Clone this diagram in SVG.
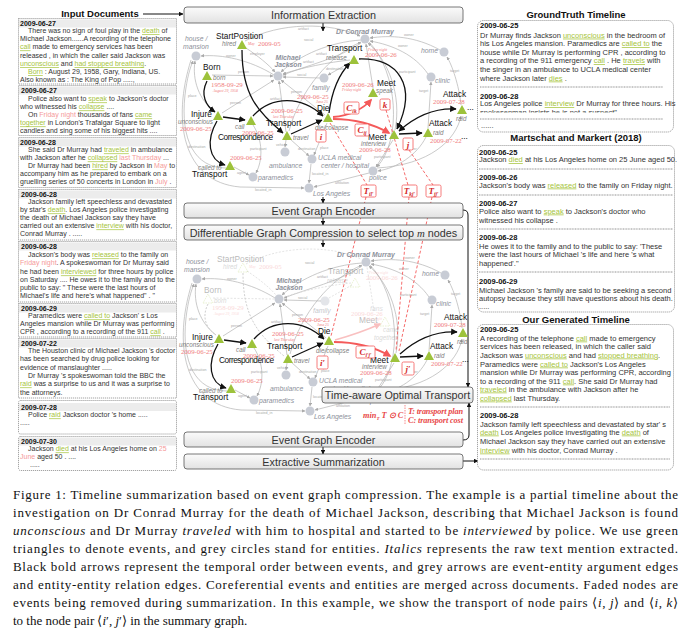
<svg xmlns="http://www.w3.org/2000/svg" width="691" height="633" viewBox="0 0 691 633">
<defs>
<linearGradient id="bg" x1="0" y1="0" x2="0" y2="1"><stop offset="0" stop-color="#fbfbfb"/><stop offset="1" stop-color="#e2e2e2"/></linearGradient>
<marker id="ga" viewBox="0 0 10 10" refX="9" refY="5" markerWidth="3.5" markerHeight="3.5" markerUnits="userSpaceOnUse" orient="auto"><path d="M0,0 L10,5 L0,10 z" fill="#aaa"/></marker>
<marker id="ba" viewBox="0 0 10 10" refX="9" refY="5" markerWidth="6.5" markerHeight="6.5" markerUnits="userSpaceOnUse" orient="auto-start-reverse"><path d="M0,0 L10,5 L0,10 z" fill="#111"/></marker>
<marker id="sa" viewBox="0 0 10 10" refX="9" refY="5" markerWidth="4.5" markerHeight="4.5" markerUnits="userSpaceOnUse" orient="auto"><path d="M0,0 L10,5 L0,10 z" fill="#111"/></marker>
<marker id="ra" viewBox="0 0 10 10" refX="8" refY="5" markerWidth="8" markerHeight="8" markerUnits="userSpaceOnUse" orient="auto"><path d="M0,0 L10,5 L0,10 z" fill="#f45a5a"/></marker>
<marker id="pa" viewBox="0 0 10 10" refX="8" refY="5" markerWidth="7" markerHeight="7" markerUnits="userSpaceOnUse" orient="auto"><path d="M0,0 L10,5 L0,10 z" fill="#f9c0c0"/></marker>
<marker id="fa" viewBox="0 0 10 10" refX="9" refY="5" markerWidth="4" markerHeight="4" markerUnits="userSpaceOnUse" orient="auto"><path d="M0,0 L10,5 L0,10 z" fill="#cfcfcf"/></marker>
<clipPath id="gtc"><rect x="478" y="99" width="195" height="13.5"/></clipPath>
<style>
.bx{fill:url(#bg);stroke:#555;stroke-width:0.8}
.bt{font-family:"Liberation Sans",Arial,sans-serif;font-size:10.8px;fill:#333;text-anchor:middle}
.ti{font-family:"Liberation Sans",Arial,sans-serif;font-size:9.5px;font-weight:bold;fill:#111;text-anchor:middle}
.doc{fill:#fff;stroke:#666;stroke-width:0.6;stroke-dasharray:1.2 0.8}
.dh{fill:#ececec}
.dd{font-family:"Liberation Sans",Arial,sans-serif;font-size:7px;font-weight:bold;fill:#111}
.dx{font-family:"Liberation Sans",Arial,sans-serif;font-size:7px;fill:#333}
.rdd{font-family:"Liberation Sans",Arial,sans-serif;font-size:7.5px;font-weight:bold;fill:#111}
.rx{font-family:"Liberation Sans",Arial,sans-serif;font-size:7.5px;fill:#333}
.g{fill:#a6c43c;text-decoration:underline}
.r{fill:#f59a9a}
.sep{stroke:#777;stroke-width:0.8;stroke-dasharray:1 0.6}
.cap{font-family:"Liberation Serif","Times New Roman",serif;font-size:13px;fill:#111}
.ev{font-family:"Liberation Sans",Arial,sans-serif;font-size:8.3px;fill:#111}
.mn{font-family:"Liberation Sans",Arial,sans-serif;font-size:6.3px;font-style:italic;fill:#808080}
.dt{font-family:"Liberation Serif",serif;font-size:6.8px;fill:#f07c7c}
.ds{font-family:"Liberation Serif",serif;font-size:3.8px;font-style:italic;fill:#f07c7c}
.en{font-family:"Liberation Sans",Arial,sans-serif;font-size:6.8px;font-style:italic;fill:#8c909a}
.enb{font-family:"Liberation Sans",Arial,sans-serif;font-size:6.8px;font-style:italic;font-weight:bold;fill:#8c909a}
.tri{fill:#9dc23b}
.ftri{fill:none;stroke:#a9cc4a;stroke-width:0.8;stroke-dasharray:1.5 1}
.ci{fill:#c8ccd5}
.ge{fill:none;stroke:#b3b3b3;stroke-width:0.7;marker-end:url(#ga)}
.gl{font-family:"Liberation Sans",Arial,sans-serif;font-size:3.6px;fill:#a8a8a8}
.te{fill:none;stroke:#111;stroke-width:1.3;marker-end:url(#ba)}
.re{fill:none;stroke:#f45a5a;stroke-width:1.8;marker-end:url(#ra)}
.pe{fill:none;stroke:#f9c0c0;stroke-width:1.6;marker-end:url(#pa)}
.rdl{fill:none;stroke:#f45a5a;stroke-width:0.9;stroke-dasharray:3 2}
.rb{fill:#fff;stroke:#f45a5a;stroke-width:0.8}
.rbt{font-family:"Liberation Serif",serif;font-style:italic;font-weight:bold;font-size:9px;fill:#d42a2a;text-anchor:middle}
.sub{font-size:5.5px}
.ar{fill:none;stroke:#111;stroke-width:1;marker-end:url(#sa)}
.fade{opacity:0.3}
.rf{font-family:"Liberation Serif",serif;font-style:italic;font-weight:bold;font-size:8.3px;fill:#e84848}
</style>
<g id="ge-core">
<path class="ge" d="M274,75 C250,60 222,54 201,56"/><text class="gl" x="226" y="57">owner</text>
<path class="ge" d="M215,112 C199,100 192,80 195,61"/><text class="gl" x="188" y="97">place</text>
<path class="ge" d="M222,113 L274,80"/><text class="gl" x="230" y="104">person</text>
<path class="ge" d="M361,40 C330,42 300,55 281,72"/><text class="gl" x="304" y="41">social</text>
<path class="ge" d="M361,43 C340,58 305,66 283,75"/><text class="gl" x="316" y="55">artifact</text>
<path class="ge" d="M320,78 L283,77"/><text class="gl" x="297" y="76">social</text>
<path class="ge" d="M325,115 L281,80"/><text class="gl" x="291" y="93">person</text>
<path class="ge" d="M286,132 L279,81"/><text class="gl" x="270" y="100">artifact</text>
<path class="ge" d="M286,140 L285,147"/><text class="gl" x="276" y="146">vehicle</text>
<path class="ge" d="M290,139 L309,156"/><text class="gl" x="298" y="150">destination</text>
<path class="ge" d="M253,125 C263,140 263,160 256,173"/><text class="gl" x="250" y="150">participant</text>
<path class="ge" d="M234,167 L249,175"/><text class="gl" x="237" y="174">agent</text>
<path class="ge" d="M226,168 C195,168 180,140 185,95 C187,78 190,68 193,61"/><text class="gl" x="188" y="148">destination</text>
<path class="ge" d="M191,60 C172,120 182,182 240,187 L304,188"/><text class="gl" x="255" y="191">located_in</text>
<path class="ge" d="M311,164 L309,183"/><text class="gl" x="312" y="175">located_in</text>
<path class="ge" d="M369,173 L314,187"/><text class="gl" x="335" y="184">affiliation</text>
<path class="ge" d="M393,140 L376,167"/><text class="gl" x="374" y="158">participant</text>
<path class="ge" d="M426,137 C417,155 397,168 378,171"/><text class="gl" x="404" y="150">attacker</text>
<path class="ge" d="M428,128 L431,82"/><text class="gl" x="419" y="92">target</text>
<path class="ge" d="M461,105 C459,85 452,65 447,57"/><text class="gl" x="450" y="72">target</text>
<path class="ge" d="M440,50 C415,36 390,35 370,38"/><text class="gl" x="404" y="36">owner</text>
<path class="ge" d="M428,74 C415,55 393,45 370,41"/><text class="gl" x="398" y="47">owner</text>
<path class="ge" d="M395,130 C402,95 388,60 368,43"/><text class="gl" x="399" y="73">participant</text>
<path class="ge" d="M327,123 L314,155"/><text class="gl" x="320" y="149">place</text>
<path class="ge" d="M289,131 C300,90 330,55 361,42"/>
<path class="ge" d="M377,168 C430,165 456,140 461,116"/>
<path class="ge" d="M369,42 C398,72 402,140 377,167"/>
</g>
<g id="ge-fade-src">
<path d="M212,75 L273,76"/><path d="M246,48 C258,56 268,64 275,72"/><path d="M245,41 C280,22 330,22 360,36"/><path d="M351,62 L328,75"/><path d="M350,60 C330,62 300,68 283,74"/><path d="M373,88 L366,44"/>
</g>
</defs>

<g id="input-docs">
<text class="ti" x="100" y="17">Input Documents</text>
<g id="doc1"><rect class="doc" x="18.5" y="18.5" width="158" height="65.5"/><rect class="dh" x="19" y="19.5" width="157" height="8"/>
<text class="dd" x="20" y="25.5">2009-06-27</text>
<text class="dx" x="28" y="33.1">There was no sign of foul play in the <tspan class="g">death</tspan> of</text>
<text class="dx" x="20" y="41.4">Michael Jackson......A recording of the telephone</text>
<text class="dx" x="20" y="49.4"><tspan class="g">call</tspan> made to emergency services has been</text>
<text class="dx" x="20" y="57.7">released , in which the caller said Jackson was</text>
<text class="dx" x="20" y="66.1"><tspan class="g">unconscious</tspan> and <tspan class="g">had stopped breathing</tspan>.</text>
<text class="dx" x="28" y="74.1"><tspan class="g">Born</tspan> : August 29, 1958, Gary, Indiana, US.</text>
<text class="dx" x="20" y="82.4">Also known as : The King of Pop .....,</text></g>
<g id="doc2"><rect class="doc" x="18.5" y="85.5" width="158" height="50"/><rect class="dh" x="19" y="86.5" width="157" height="8"/>
<text class="dd" x="21" y="92.5">2009-06-27</text>
<text class="dx" x="28" y="101.4">Police also want to <tspan class="g">speak</tspan> to Jackson's doctor</text>
<text class="dx" x="20" y="109.4">who witnessed his <tspan class="g">collapse</tspan> ....</text>
<text class="dx" x="28" y="117.4">On <tspan class="r">Friday night</tspan> thousands of fans <tspan class="g">came</tspan></text>
<text class="dx" x="20" y="125.4"><tspan class="g">together</tspan> in London's Trafalgar Square to light</text>
<text class="dx" x="20" y="133.4">candles and sing some of his biggest hits ....</text></g>
<g id="doc3"><rect class="doc" x="18.5" y="137.5" width="158" height="50"/><rect class="dh" x="19" y="138.5" width="157" height="8"/>
<text class="dd" x="20" y="144.5">2009-06-28</text>
<text class="dx" x="28" y="152.4">She said Dr Murray had <tspan class="g">traveled</tspan> in ambulance</text>
<text class="dx" x="20" y="160.4">with Jackson after he <tspan class="g">collapsed</tspan> <tspan class="r">last Thursday</tspan> ...</text>
<text class="dx" x="28" y="168.4">Dr Murray had been <tspan class="g">hired</tspan> by Jackson in <tspan class="r">May</tspan> to</text>
<text class="dx" x="20" y="176.4">accompany him as he prepared to embark on a</text>
<text class="dx" x="20" y="184.4">gruelling series of 50 concerts in London in <tspan class="r">July</tspan> .</text></g>
<g id="doc4"><rect class="doc" x="18.5" y="189.5" width="158" height="50.5"/><rect class="dh" x="19" y="190.5" width="157" height="8"/>
<text class="dd" x="21" y="196.5">2009-06-28</text>
<text class="dx" x="28" y="204.4">Jackson family left speechless and devastated</text>
<text class="dx" x="20" y="212.4">by star's <tspan class="g">death</tspan>. Los Angeles police investigating</text>
<text class="dx" x="20" y="220.4">the death of Michael Jackson say they have</text>
<text class="dx" x="20" y="228.4">carried out an extensive <tspan class="g">interview</tspan> with his doctor,</text>
<text class="dx" x="20" y="236.4">Conrad Murray . .....</text></g>
<g id="doc5"><rect class="doc" x="18.5" y="241.5" width="158" height="60.5"/><rect class="dh" x="19" y="242.5" width="157" height="8"/>
<text class="dd" x="21" y="248.5">2009-06-28</text>
<text class="dx" x="28" y="257.4">Jackson's body was <tspan class="g">released</tspan> to the family on</text>
<text class="dx" x="20" y="265.4"><tspan class="r">Friday night</tspan>. A spokeswoman for Dr Murray said</text>
<text class="dx" x="20" y="274.4">he had been <tspan class="g">interviewed</tspan> for three hours by police</text>
<text class="dx" x="20" y="282.4">on Saturday .... He owes it to the family and to the</text>
<text class="dx" x="20" y="290.4">public to say: " These were the last hours of</text>
<text class="dx" x="20" y="298.4">Michael's life and here's what happened" . "</text></g>
<g id="doc6"><rect class="doc" x="18.5" y="303.5" width="158" height="33.5"/><rect class="dh" x="19" y="304.5" width="157" height="8"/>
<text class="dd" x="21" y="310.5">2009-06-29</text>
<text class="dx" x="28" y="318.4">Paramedics were <tspan class="g">called to</tspan> Jackson' s Los</text>
<text class="dx" x="20" y="326.4">Angeles mansion while Dr Murray was performing</text>
<text class="dx" x="20" y="334.4">CPR , according to a recording of the 911 <tspan class="g">call</tspan> .</text></g>
<g id="doc7"><rect class="doc" x="18.5" y="338.5" width="158" height="59.5"/><rect class="dh" x="19" y="339.5" width="157" height="8"/>
<text class="dd" x="21" y="345.5">2009-07-22</text>
<text class="dx" x="28" y="353.4">The Houston clinic of Michael Jackson 's doctor</text>
<text class="dx" x="20" y="361.4">has been searched by drug police looking for</text>
<text class="dx" x="20" y="370.4">evidence of manslaughter .....</text>
<text class="dx" x="28" y="378.4">Dr Murray 's spokeswoman told the BBC the</text>
<text class="dx" x="20" y="386.4"><tspan class="g">raid</tspan> was a surprise to us and it was a surprise to</text>
<text class="dx" x="20" y="395.4">the attorneys.</text></g>
<g id="doc8"><rect class="doc" x="18.5" y="400.5" width="158" height="33.5" rx="2"/><rect class="dh" x="19" y="403" width="157" height="8"/>
<text class="dd" x="21" y="409.5">2009-07-28</text>
<text class="dx" x="28" y="417.4">Police <tspan class="g">raid</tspan> Jackson doctor 's home .....</text>
<text class="dx" x="20" y="425.4">.....</text></g>
<g id="doc9"><rect class="doc" x="18.5" y="436.5" width="158" height="34" rx="2"/><rect class="dh" x="19" y="437.5" width="157" height="8"/>
<text class="dd" x="21" y="443.5">2009-07-30</text>
<text class="dx" x="28" y="451.4">Jackson <tspan class="g">died</tspan> at his Los Angeles home on <tspan class="r">25</tspan></text>
<text class="dx" x="20" y="459.4"><tspan class="r">June</tspan> aged 50 . ....</text>
<text class="dx" x="30" y="467.4">.....</text></g>
</g>

<g id="connectors">
<use href="#ge-core"/>
<use href="#ge-fade-src" style="fill:none;stroke:#b3b3b3;stroke-width:0.7;marker-end:url(#ga)"/>
<text class="gl" x="238" y="73">person</text><text class="gl" x="250" y="55">employer</text><text class="gl" x="298" y="30">artifact</text><text class="gl" x="326" y="70">destination</text><text class="gl" x="303" y="63">artifact</text>
<g transform="translate(1,223)">
<use href="#ge-core"/>
<use href="#ge-fade-src" style="fill:none;stroke:#d8d8d8;stroke-width:0.7;stroke-dasharray:2 1.5"/>
</g>
<path class="te" d="M242,50 C242,95 258,112 283,133"/>
<path class="te" d="M207,81 C200,95 206,106 215,112"/>
<path class="te" d="M223,117 L245,120"/>
<path class="te" d="M217,121 C206,140 208,160 225,165"/>
<path class="te" d="M253,116 C272,95 302,96 323,116"/>
<path class="te" d="M291,134 L322,120"/>
<path class="te" d="M329,113 C332,90 340,73 350,63"/>
<path class="te" d="M359,59 C398,58 418,85 397,129"/>
<path class="te" d="M399,134 L422,133"/>
<path class="te" d="M399,131 C418,114 438,108 456,109" marker-start="url(#ba)"/>
<path class="re" d="M333,117 C350,116 364,108 371,100"/>
<path class="re" d="M333,119 C355,119 375,125 389,133"/>
<g transform="translate(1,223)">
<path d="M242,50 C242,95 258,112 283,133" fill="none" stroke="#cfcfcf" stroke-width="1" stroke-dasharray="2 1.5"/>
<path d="M207,81 C200,95 206,106 215,112" fill="none" stroke="#cfcfcf" stroke-width="1" stroke-dasharray="2 1.5"/>
<path class="te" d="M223,117 L245,120"/>
<path class="te" d="M217,121 C206,140 208,160 225,165"/>
<path class="te" d="M253,116 C272,95 302,96 323,116"/>
<path class="te" d="M291,134 L322,120"/>
<path class="te" d="M399,134 L422,133"/>
<path class="te" d="M399,131 C418,114 438,108 456,109"/>
<path class="pe" d="M334,117 C352,112 368,106 379,101"/>
<path class="re" d="M333,119 C355,119 375,125 389,133"/>
</g>
<path class="rdl" d="M330,123 L367,185"/>
<path class="rdl" d="M386,110 L408,185"/>
<path class="rdl" d="M409,150 L433,185"/>
<path class="rdl" d="M366,197 L331,336"/>
<path class="rdl" d="M409,197 L396,351"/>
<path class="rdl" d="M432,197 L399,351"/>
<path class="ar" d="M143,14 L183,14" stroke-width="1.3"/>
<path class="ar" d="M323,23 L323,31"/>
<path class="ar" d="M323,197 L323,203"/>
<path class="ar" d="M323,218 L323,225"/>
<path class="ar" d="M323,240 L323,247"/>
<path class="ar" d="M463,210 Q468,210 468,215 L468,387"/>
<path class="ar" d="M463,440 Q469,440 469,435 L469,403"/>
<path class="ar" d="M323,447 L323,454"/>
<path class="ar" d="M463,461 L478,461"/>
</g>

<g id="top-graph">
<g id="n-house"><circle class="ci" cx="196" cy="56" r="4.5"/><text class="en" x="185" y="41">house /</text><text class="en" x="183" y="49">mansion</text></g>
<g id="n-mj"><circle class="ci" cx="278" cy="76" r="4.5"/><text class="enb" x="288" y="59.5" text-anchor="middle">Michael</text><text class="enb" x="288" y="67" text-anchor="middle">Jackson</text></g>
<g id="n-family"><circle class="ci" cx="324" cy="78" r="4.5"/><text class="en" x="312" y="89.5">family</text></g>
<g id="n-murray"><circle class="ci" cx="365" cy="39" r="4.5"/><text class="enb" x="336" y="33.5">Dr Conrad Murray</text></g>
<g id="n-home"><circle class="ci" cx="444" cy="52" r="4.5"/><text class="en" x="421" y="53">home</text></g>
<g id="n-clinic"><circle class="ci" cx="431" cy="77" r="4.5"/><text class="en" x="435" y="82.5">clinic</text></g>
<g id="n-ambulance"><circle class="ci" cx="285" cy="152" r="4.5"/><text class="en" x="269" y="167.5">ambulance</text></g>
<g id="n-ucla"><circle class="ci" cx="312" cy="159" r="4.5"/><text class="en" x="318" y="159.5">UCLA medical</text><text class="en" x="321" y="167.5">center / hospital</text></g>
<g id="n-paramedics"><circle class="ci" cx="253" cy="177" r="4.5"/><text class="en" x="258" y="180">paramedics</text></g>
<g id="n-police"><circle class="ci" cx="373" cy="171" r="4.5"/><text class="en" x="369" y="180">police</text></g>
<g id="n-la"><circle class="ci" cx="309" cy="188" r="4.5"/><text class="en" x="313" y="195.5">Los Angeles</text></g>

<g id="e-start"><polygon class="tri" points="237,49 247,49 242,40"/><text class="ev" x="216" y="39">StartPosition</text><text class="mn" x="222" y="45.5">hired</text><text class="ds" x="248" y="45">May</text><text class="dt" x="258" y="45.5">2009-05</text></g>
<g id="e-born"><polygon class="tri" points="202,80 212,80 207,71"/><text class="ev" x="203" y="70">Born</text><text class="mn" x="213" y="79.5">born</text><text class="dt" x="211" y="86.5">1958-09-29</text><text class="ds" x="213" y="92">August 29, 1958</text></g>
<g id="e-injure"><polygon class="tri" points="213,120 223,120 218,111"/><text class="ev" x="191" y="117">Injure</text><text class="mn" x="178" y="123.5">unconscious</text><text class="dt" x="180" y="130.5">2009-06-25</text></g>
<g id="e-call"><polygon class="tri" points="246,125 256,125 251,116"/><text class="mn" x="235" y="128.5">call</text><text class="dt" x="242" y="134.5">2009-06-25</text><text class="ev" x="218" y="140" textLength="55">Correspondence</text></g>
<g id="e-travel"><polygon class="tri" points="282,140 292,140 287,131"/><text class="ev" x="266" y="126">Transport</text><text class="mn" x="293" y="139.5">travel</text><text class="dt" x="271" y="112.5">2009-06-25</text><text class="ds" x="273" y="118">last Thursday</text></g>
<g id="e-calledto"><polygon class="tri" points="225,170 235,170 230,161"/><text class="mn" x="198" y="169.5">called to</text><text class="ev" x="192" y="177">Transport</text><text class="dt" x="230" y="159.5">2009-06-25</text></g>
<g id="e-die"><polygon class="tri" points="323,122 333,122 328,113"/><text class="ev" x="317" y="111">Die</text><text class="mn" x="315" y="129.5">die/collapse</text><text class="dt" x="297" y="99">2009-06-25</text><text class="ds" x="316" y="103">June 25</text><rect class="rb" x="316" y="130" width="10" height="12" rx="1.5"/><text class="rbt" x="321" y="139.5">i</text></g>
<g id="e-release"><polygon class="tri" points="349,64 359,64 354,55"/><text class="ev" x="327" y="51">Transport</text><text class="mn" x="326" y="59.5">release</text><text class="dt" x="365" y="57">2009-06-26</text><text class="ds" x="368" y="50.5">Friday night</text></g>
<g id="e-speak"><polygon class="tri" points="368,97 378,97 373,88"/><text class="ev" x="377" y="86">Meet</text><text class="mn" x="376" y="93">speak</text><text class="dt" x="342" y="86.5">2009-06-26</text><text class="ds" x="342" y="91">Friday night</text><rect class="rb" x="380" y="99" width="10" height="11" rx="1.5"/><text class="rbt" x="385" y="107.5">k</text></g>
<g id="e-interview"><polygon class="tri" points="389,139 399,139 394,130"/><text class="ev" x="368" y="139.5">Meet</text><text class="mn" x="361" y="146">interview</text><text class="dt" x="359" y="152">2009-06-28</text><rect class="rb" x="403" y="138" width="10" height="12" rx="1.5"/><text class="rbt" x="408" y="147.5">j</text></g>
<g id="e-att22"><polygon class="tri" points="423,137 433,137 428,128"/><text class="ev" x="429" y="126">Attack</text><text class="mn" x="433" y="135">raid</text><text class="dt" x="430" y="143">2009-07-22</text><text class="ev" x="461" y="139">...</text></g>
<g id="e-att28"><polygon class="tri" points="457,114 467,114 462,105"/><text class="ev" x="443" y="97">Attack</text><text class="dt" x="433" y="103.5">2009-07-28</text><text class="mn" x="456" y="121">raid</text><text class="ev" x="467" y="110">...</text></g>
<g id="c-ik"><rect class="rb" x="344" y="102" width="15" height="12" rx="1.5"/><text class="rbt" x="351.5" y="111">C<tspan class="sub" dy="1.5">ik</tspan></text></g>
<g id="c-ij"><rect class="rb" x="355" y="124" width="14" height="12" rx="1.5"/><text class="rbt" x="362" y="133">C<tspan class="sub" dy="1.5">ij</tspan></text></g>
<g id="t-il"><rect class="rb" x="361" y="185" width="15" height="12" rx="1.5"/><text class="rbt" x="368.5" y="194">T<tspan class="sub" dy="1.5">il′</tspan></text></g>
<g id="t-kj"><rect class="rb" x="402" y="185" width="15" height="12" rx="1.5"/><text class="rbt" x="409.5" y="194">T<tspan class="sub" dy="1.5">kj′</tspan></text></g>
<g id="t-jj"><rect class="rb" x="426" y="185" width="15" height="12" rx="1.5"/><text class="rbt" x="433.5" y="194">T<tspan class="sub" dy="1.5">jj′</tspan></text></g>
</g>

<g id="bottom-graph" transform="translate(1,223)">
<g id="b-house"><circle class="ci" cx="196" cy="56" r="4.5"/><text class="en" x="185" y="41">house /</text><text class="en" x="183" y="49">mansion</text></g>
<g id="b-mj"><circle class="ci" cx="278" cy="76" r="4.5"/><text class="enb" x="288" y="59.5" text-anchor="middle">Michael</text><text class="enb" x="288" y="67" text-anchor="middle">Jackson</text></g>
<g id="b-family" opacity="0.5"><circle class="ci" cx="324" cy="78" r="4.5"/><text class="en" x="312" y="89.5">family</text></g>
<g id="b-murray"><circle class="ci" cx="365" cy="39" r="4.5"/><text class="enb" x="336" y="33.5">Dr Conrad Murray</text></g>
<g id="b-home"><circle class="ci" cx="444" cy="52" r="4.5"/><text class="en" x="421" y="53">home</text></g>
<g id="b-clinic"><circle class="ci" cx="431" cy="77" r="4.5"/><text class="en" x="435" y="82.5">clinic</text></g>
<g id="b-ambulance"><circle class="ci" cx="285" cy="152" r="4.5"/><text class="en" x="269" y="167.5">ambulance</text></g>
<g id="b-ucla"><circle class="ci" cx="312" cy="159" r="4.5"/><text class="en" x="318" y="159.5">UCLA medical</text><text class="en" x="321" y="167.5">center / hospital</text></g>
<g id="b-paramedics"><circle class="ci" cx="253" cy="177" r="4.5"/><text class="en" x="258" y="180">paramedics</text></g>
<g id="b-police"><circle class="ci" cx="373" cy="171" r="4.5"/><text class="en" x="369" y="180">police</text></g>
<g id="b-la"><circle class="ci" cx="309" cy="188" r="4.5"/><text class="en" x="313" y="195.5">Los Angeles</text></g>
<g id="b-fans" class="fade"><text class="en" x="369" y="87.5">fans</text></g>

<g id="b-start" class="fade"><polygon class="ftri" points="237,49 247,49 242,40"/><text class="ev" x="216" y="39">StartPosition</text><text class="mn" x="222" y="45.5">hired</text><text class="ds" x="248" y="45">May</text><text class="dt" x="258" y="45.5">2009-05</text></g>
<g id="b-born" class="fade"><polygon class="ftri" points="202,80 212,80 207,71"/><text class="ev" x="203" y="70">Born</text><text class="mn" x="213" y="79.5">born</text><text class="dt" x="211" y="86.5">1958-09-29</text><text class="ds" x="213" y="92">August 29, 1958</text></g>
<g id="b-release" class="fade"><polygon class="ftri" points="349,64 359,64 354,55"/><text class="ev" x="327" y="51">Transport</text><text class="mn" x="326" y="59.5">release</text><text class="dt" x="365" y="57">2009-06-26</text><text class="ds" x="368" y="50.5">Friday night</text></g>
<g id="b-meetfans" class="fade"><polygon class="ftri" points="379,103 389,103 384,94"/><text class="ev" x="358" y="100">Meet</text><text class="mn" x="382" y="109">came</text><text class="mn" x="373" y="116.5">together</text><text class="dt" x="350" y="93">2009-06-26</text><text class="ds" x="362" y="96.5">Friday night</text></g>
<g id="b-injure"><polygon class="tri" points="213,120 223,120 218,111"/><text class="ev" x="191" y="117">Injure</text><text class="mn" x="178" y="123.5">unconscious</text><text class="dt" x="180" y="130.5">2009-06-25</text></g>
<g id="b-call"><polygon class="tri" points="246,125 256,125 251,116"/><text class="mn" x="235" y="128.5">call</text><text class="dt" x="242" y="134.5">2009-06-25</text><text class="ev" x="218" y="140" textLength="55">Correspondence</text></g>
<g id="b-travel"><polygon class="tri" points="282,140 292,140 287,131"/><text class="ev" x="266" y="126">Transport</text><text class="mn" x="293" y="139.5">travel</text><text class="dt" x="271" y="112.5">2009-06-25</text><text class="ds" x="273" y="118">last Thursday</text></g>
<g id="b-calledto"><polygon class="tri" points="225,170 235,170 230,161"/><text class="mn" x="198" y="169.5">called to</text><text class="ev" x="192" y="177">Transport</text><text class="dt" x="230" y="159.5">2009-06-25</text></g>
<g id="b-die"><polygon class="tri" points="323,122 333,122 328,113"/><text class="ev" x="317" y="111">Die</text><text class="mn" x="315" y="129.5">die/collapse</text><text class="dt" x="297" y="99">2009-06-25</text><text class="ds" x="316" y="103">June 25</text><rect class="rb" x="316" y="133" width="11" height="13" rx="1.5"/><text class="rbt" x="321.5" y="142.5">i′</text></g>
<g id="b-meet"><polygon class="tri" points="389,139 399,139 394,130"/><text class="ev" x="369" y="139.5">Meet</text><text class="mn" x="361" y="146">interview</text><text class="dt" x="359" y="152">2009-06-28</text><rect class="rb" x="401" y="139" width="12" height="13" rx="1.5"/><text class="rbt" x="407" y="148.5">j′</text></g>
<g id="b-att22"><polygon class="tri" points="423,137 433,137 428,128"/><text class="ev" x="429" y="126">Attack</text><text class="mn" x="433" y="135">raid</text><text class="dt" x="430" y="143">2009-07-22</text><text class="ev" x="461" y="139">...</text></g>
<g id="b-att28"><polygon class="tri" points="457,114 467,114 462,105"/><text class="ev" x="443" y="97">Attack</text><text class="dt" x="433" y="103.5">2009-07-28</text><text class="mn" x="456" y="121">raid</text></g>
<g id="b-cij"><rect class="rb" x="355" y="123" width="19" height="12" rx="1.5"/><text class="rbt" x="364.5" y="132">C<tspan class="sub" dy="1.5">i′j′</tspan></text></g>
</g>

<g id="box-ie"><rect class="bx" x="184" y="7" width="279" height="16" rx="3"/><text class="bt" x="323.5" y="19">Information Extraction</text></g>
<g id="box-ege1"><rect class="bx" x="184" y="203" width="279" height="15" rx="3"/><text class="bt" x="323.5" y="214.5">Event Graph Encoder</text></g>
<g id="box-dgc"><rect class="bx" x="184" y="225" width="279" height="15" rx="3"/><text class="bt" x="323.5" y="236.5">Differentiable Graph Compression to select top <tspan font-family="Liberation Serif" font-style="italic">m</tspan> nodes</text></g>
<g id="box-ot"><rect class="bx" x="322" y="387" width="151" height="16" rx="3"/><text class="bt" x="397.5" y="399">Time-aware Optimal Transport</text>
<text class="rf" x="363" y="418" font-size="8.8">min<tspan font-size="5" dy="1.5">T</tspan><tspan dy="-1.5"> T ⊙ C</tspan></text>
<line x1="405" y1="405" x2="405" y2="424" stroke="#f45a5a" stroke-width="0.7" stroke-dasharray="1.5 1"/>
<text class="rf" x="408" y="413.5" textLength="55">T: transport plan</text><text class="rf" x="408" y="422.5" textLength="55">C: transport cost</text></g>
<g id="box-ege2"><rect class="bx" x="184" y="432" width="279" height="15" rx="3"/><text class="bt" x="323.5" y="443.5">Event Graph Encoder</text></g>
<g id="box-es"><rect class="bx" x="184" y="454" width="279" height="15" rx="3"/><text class="bt" x="323.5" y="465.5">Extractive Summarization</text></g>

<g id="groundtruth">
<text class="ti" x="576" y="17.5">GroundTruth Timeline</text>
<rect class="doc" x="477.5" y="20.5" width="196" height="111.5" rx="6"/>
<text class="rdd" x="480" y="27.5">2009-06-25</text>
<text class="rx" x="480" y="37.6">Dr Murray finds Jackson <tspan class="g">unconscious</tspan> in the bedroom of</text>
<text class="rx" x="480" y="46">his Los Angeles mansion. Paramedics are <tspan class="g">called to</tspan> the</text>
<text class="rx" x="480" y="54.5">house while Dr Murray is performing CPR , according to</text>
<text class="rx" x="480" y="63.2">a recording of the 911 emergency <tspan class="g">call</tspan> . He <tspan class="g">travels</tspan> with</text>
<text class="rx" x="480" y="72">the singer in an ambulance to UCLA medical center</text>
<text class="rx" x="480" y="80.5">where Jackson later <tspan class="g">dies</tspan> .</text>
<line class="sep" x1="480" y1="87" x2="663" y2="87"/>
<text class="rdd" x="480" y="98.5">2009-06-28</text>
<text class="rx" x="480" y="106">Los Angeles police <tspan class="g">interview</tspan> Dr Murray for three hours. His</text>
<text class="rx" x="480" y="114.5" clip-path="url(#gtc)">spokesenman insists he is not a suspect"</text>
<line class="sep" x1="480" y1="119" x2="663" y2="119"/>
<text class="rx" x="481" y="128">......</text>
</g>
<g id="martschat">
<text class="ti" x="576" y="140.5">Martschat and Markert (2018)</text>
<rect class="doc" x="477.5" y="145.5" width="197" height="166.5" rx="6"/>
<text class="rdd" x="479" y="154.5">2009-06-25</text>
<text class="rx" x="479" y="162">Jackson <tspan class="g">died</tspan> at his Los Angeles home on 25 June aged 50.</text>
<line class="sep" x1="479" y1="169" x2="673" y2="169"/>
<text class="rdd" x="479" y="179.5">2009-06-26</text>
<text class="rx" x="479" y="187.5">Jackson's body was <tspan class="g">released</tspan> to the family on Friday night.</text>
<line class="sep" x1="479" y1="195" x2="673" y2="195"/>
<text class="rdd" x="479" y="205.5">2009-06-27</text>
<text class="rx" x="479" y="213.5">Police also want to <tspan class="g">speak</tspan> to Jackson's doctor who</text>
<text class="rx" x="479" y="222.5">witnessed his collapse .</text>
<line class="sep" x1="479" y1="229" x2="673" y2="229"/>
<text class="rdd" x="479" y="239.5">2009-06-28</text>
<text class="rx" x="479" y="248.5">He owes it to the family and to the public to say: 'These</text>
<text class="rx" x="479" y="257">were the last hours of Michael 's life and here 's what</text>
<text class="rx" x="479" y="265.5">happened'."</text>
<line class="sep" x1="479" y1="272" x2="673" y2="272"/>
<text class="rdd" x="479" y="283.5">2009-06-29</text>
<text class="rx" x="479" y="292.5">Michael Jackson 's family are said to be seeking a second</text>
<text class="rx" x="479" y="301">autopsy because they still have questions about his death.</text>
<text class="rx" x="479" y="308.5">.....</text>
</g>
<g id="generated">
<text class="ti" x="576" y="322.5">Our Generated Timeline</text>
<rect class="doc" x="477.5" y="324.5" width="196" height="145.5" rx="6"/>
<text class="rdd" x="480" y="331.5">2009-06-25</text>
<text class="rx" x="480" y="340.5">A recording of the telephone <tspan class="g">call</tspan> made to emergency</text>
<text class="rx" x="480" y="349">services has been released, in which the caller said</text>
<text class="rx" x="480" y="357.5">Jackson was <tspan class="g">unconscious</tspan> and had <tspan class="g">stopped breathing</tspan>.</text>
<text class="rx" x="480" y="366.5">Paramedics were <tspan class="g">called to</tspan> Jackson's Los Angeles</text>
<text class="rx" x="480" y="374.5">mansion while Dr Murray was performing CPR, according</text>
<text class="rx" x="480" y="383.5">to a recording of the 911 <tspan class="g">call</tspan>. She said Dr Murray had</text>
<text class="rx" x="480" y="391.5"><tspan class="g">traveled</tspan> in the ambulance with Jackson after he</text>
<text class="rx" x="480" y="400.5"><tspan class="g">collapsed</tspan> last Thursday.</text>
<line class="sep" x1="480" y1="407" x2="670" y2="407"/>
<text class="rdd" x="480" y="417.5">2009-06-28</text>
<text class="rx" x="480" y="426.5">Jackson family left speechless and devastated by star' s</text>
<text class="rx" x="480" y="434.5"><tspan class="g">death</tspan> Los Angeles police investigating the <tspan class="g">death</tspan> of</text>
<text class="rx" x="480" y="443.5">Michael Jackson say they have carried out an extensive</text>
<text class="rx" x="480" y="452.5"><tspan class="g">interview</tspan> with his doctor, Conrad Murray .</text>
<line class="sep" x1="480" y1="459" x2="670" y2="459"/>
</g>

<g id="caption" class="cap" font-family="'Liberation Serif', 'Times New Roman', serif">
<text x="13" y="499" textLength="665" lengthAdjust="spacing">Figure 1: Timeline summarization based on event graph compression. The example is a partial timeline about the</text>
<text x="13" y="517" textLength="665" lengthAdjust="spacing">investigation on Dr Conrad Murray for the death of Michael Jackson, describing that Michael Jackson is found</text>
<text x="13" y="535" textLength="665" lengthAdjust="spacing"><tspan font-style="italic">unconscious</tspan> and Dr Murray <tspan font-style="italic">traveled</tspan> with him to hospital and started to be <tspan font-style="italic">interviewed</tspan> by police. We use green</text>
<text x="13" y="553" textLength="665" lengthAdjust="spacing">triangles to denote events, and grey circles stand for entities. <tspan font-style="italic">Italics</tspan> represents the raw text mention extracted.</text>
<text x="13" y="571" textLength="665" lengthAdjust="spacing">Black bold arrows represent the temporal order between events, and grey arrows are event-entity argument edges</text>
<text x="13" y="589" textLength="665" lengthAdjust="spacing">and entity-entity relation edges. Coreferential events and entities are merged across documents. Faded nodes are</text>
<text x="13" y="607" textLength="665" lengthAdjust="spacing">events being removed during summarization.  In this example, we show the transport of node pairs ⟨<tspan font-style="italic">i</tspan>, <tspan font-style="italic">j</tspan>⟩ and ⟨<tspan font-style="italic">i</tspan>, <tspan font-style="italic">k</tspan>⟩</text>
<text x="13" y="625">to the node pair ⟨<tspan font-style="italic">i</tspan>′, <tspan font-style="italic">j</tspan>′⟩ in the summary graph.</text>
</g>
</svg>
